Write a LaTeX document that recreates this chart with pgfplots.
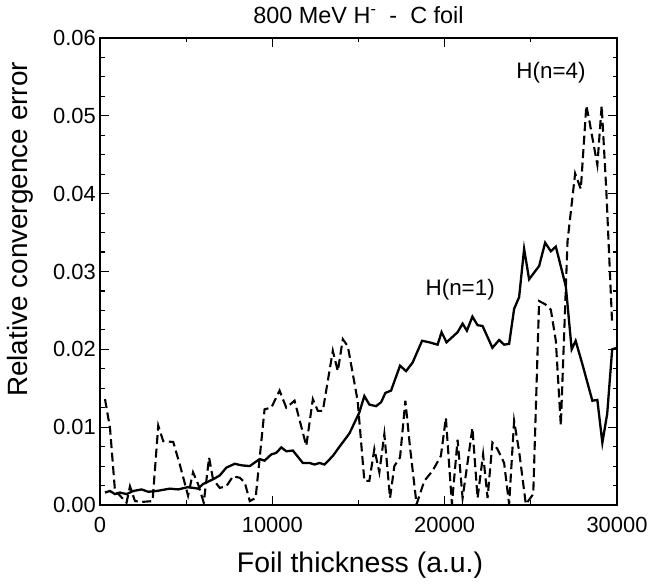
\documentclass[border=0pt]{standalone}
\usepackage{fontspec}
\setmainfont{Liberation Sans}
\usepackage{pgfplots}
\pgfplotsset{compat=1.18}
\begin{document}
\begin{tikzpicture}
\useasboundingbox (0,0) rectangle (652bp,587bp);
\begin{axis}[
  at={(100bp,82bp)}, anchor=south west,
  scale only axis, width=517bp, height=467bp,
  xmin=0, xmax=30000, ymin=0, ymax=0.06,
  axis line style={line width=1.3bp},
  every tick/.style={black, line width=1.1bp},
  tick align=inside,
  major tick length=9bp, minor tick length=4.5bp,
  xtick={0,10000,20000,30000},
  minor x tick num=1,
  ytick={0,0.01,0.02,0.03,0.04,0.05,0.06},
  minor y tick num=3,
  scaled x ticks=false, scaled y ticks=false,
  /pgf/number format/assume math mode=true,
  xticklabel style={/pgf/number format/1000 sep={}, font=\fontsize{22}{25}\selectfont, inner sep=2bp, yshift=-10bp},
  yticklabel style={/pgf/number format/fixed, /pgf/number format/fixed zerofill, /pgf/number format/precision=2, font=\fontsize{22}{25}\selectfont, inner sep=2bp, xshift=-2bp},
  xlabel={Foil thickness (a.u.)},
  ylabel={Relative convergence error},
  xlabel style={font=\fontsize{28.5}{32}\selectfont, at={(axis description cs:0.503,-0.128)}, anchor=center},
  ylabel style={font=\fontsize{28}{32}\selectfont, at={(axis description cs:-0.155,0.59)}, anchor=center, rotate=0},
  title={800 MeV H\textsuperscript{-}\ \ -\ \ C foil},
  title style={font=\fontsize{23.5}{28}\selectfont, at={(axis description cs:0.5,1.037)}, anchor=center},
  clip=true,
]
% H(n=1) solid
\addplot[black, line width=2.3bp] coordinates {
(290,0.0016) (580,0.0018) (870,0.0014) (1160,0.0016) (1540,0.0014) (1930,0.0018)
(2410,0.0020) (2800,0.0017) (3280,0.0018) (4050,0.0021) (4540,0.0020) (5110,0.0023)
(5690,0.0021) (5980,0.0027) (6560,0.0033) (6950,0.0038) (7330,0.0048) (7820,0.0053)
(8200,0.0051) (8690,0.0050) (9260,0.0059) (9550,0.0057) (9940,0.0065) (10230,0.0067)
(10520,0.0074) (10810,0.0069) (11190,0.0070) (11770,0.0054) (12160,0.0054) (12450,0.0052)
(12740,0.0054) (13030,0.0052) (13510,0.0063) (13900,0.0075) (14475,0.0092) (15050,0.0119)
(15340,0.0140) (15630,0.0129) (16020,0.0127) (16310,0.0132) (16560,0.0144) (16890,0.0147)
(17410,0.0179) (17760,0.0172) (18140,0.0183) (18690,0.0211) (19110,0.0209) (19590,0.0206)
(19820,0.0222) (20110,0.0209) (20750,0.0222) (21040,0.0233) (21290,0.0224) (21610,0.0242)
(21910,0.0231) (22200,0.0230) (22770,0.0202) (23160,0.0212) (23450,0.0206) (23740,0.0207)
(24030,0.0252) (24320,0.0267) (24610,0.0329) (24900,0.0290) (25480,0.0307) (25830,0.0337)
(26160,0.0326) (26450,0.0332) (27030,0.0281) (27370,0.0200) (27600,0.0211) (27990,0.0181)
(28570,0.0134) (28860,0.0135) (29150,0.0080) (29430,0.0117) (29720,0.0200) (30010,0.0202)
};
% H(n=4) dashed
\addplot[black, line width=2.1bp, dash pattern=on 9bp off 4.5bp] coordinates {
(290,0.0136) (580,0.0099) (870,0.0018) (1160,0.0012) (1540,0.0003) (1740,0.0024)
(2030,0.0005) (2450,0.0004) (3050,0.0005) (3380,0.0102) (3670,0.0082) (4250,0.0081)
(4630,0.0052) (5110,0.0012) (5400,0.0042) (5690,0.0027) (6020,0.0003) (6330,0.0061)
(6560,0.0033) (6950,0.0022) (7330,0.0024) (7720,0.0037) (8110,0.0035) (8400,0.0029)
(8690,0.0005) (9030,0.0009) (9550,0.0123) (9940,0.0125) (10420,0.0147) (10810,0.0125)
(11290,0.0134) (11970,0.0076) (12350,0.0136) (12640,0.0121) (12930,0.0121) (13510,0.0198)
(13800,0.0172) (14090,0.0213) (14380,0.0204) (14950,0.0134) (15340,0.0031) (15630,0.0031)
(15920,0.0072) (16210,0.0042) (16500,0.0091) (16830,0.0009) (17080,0.0050) (17410,0.0061)
(17720,0.0134) (17990,0.0074) (18370,0.0001) (18820,0.0031) (19300,0.0044) (19780,0.0063)
(20070,0.0112) (20420,0.0001) (20750,0.0084) (21040,0.0009) (21610,0.0099) (21910,0.0009)
(22230,0.0065) (22490,0.0009) (22770,0.0080) (23060,0.0072) (23450,0.0054) (23740,0.0001)
(24030,0.0108) (24320,0.0069) (24710,0.0001) (25140,0.0014) (25480,0.0262) (25830,0.0258)
(26160,0.0251) (26450,0.0211) (26740,0.0102) (27130,0.0339) (27570,0.0426) (27900,0.0406)
(28220,0.0513) (28410,0.0492) (28570,0.0472) (28860,0.0437) (29110,0.0513) (29380,0.0404)
(29720,0.0232)
};
\node[font=\fontsize{22.5}{26}\selectfont] at (axis cs:26170,0.0555) {H(n=4)};
\node[font=\fontsize{22.5}{26}\selectfont] at (axis cs:20900,0.0276) {H(n=1)};
\end{axis}
\end{tikzpicture}
\end{document}
